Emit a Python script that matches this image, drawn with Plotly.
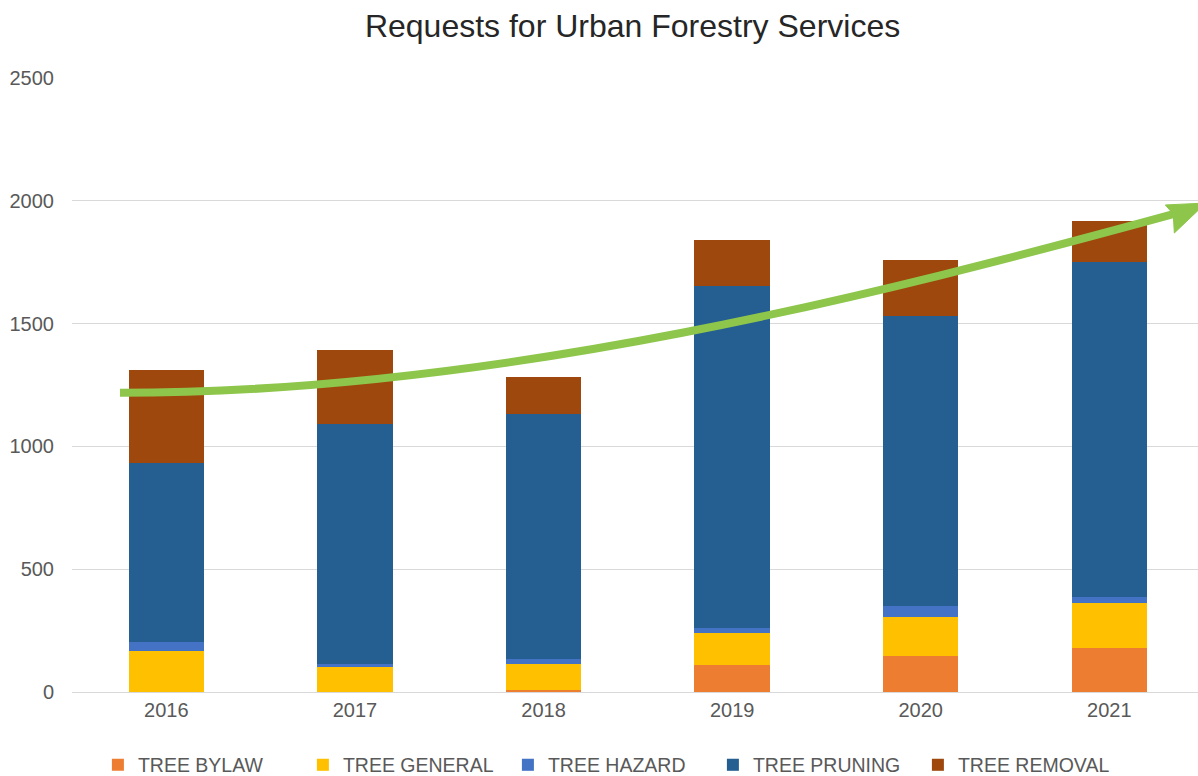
import plotly.graph_objects as go

# Requests per year, by service type
years = ["2016", "2017", "2018", "2019", "2020", "2021"]
tree_bylaw = [0, 0, 9, 111, 148, 178]
tree_general = [167, 100, 105, 129, 157, 184]
tree_hazard = [35, 14, 20, 20, 46, 23]
tree_pruning = [729, 978, 999, 1392, 1180, 1367]
tree_removal = [380, 299, 150, 187, 229, 165]

series = [
    ("TREE BYLAW", tree_bylaw, "#ED7D31"),
    ("TREE GENERAL", tree_general, "#FFC000"),
    ("TREE HAZARD", tree_hazard, "#4472C4"),
    ("TREE PRUNING", tree_pruning, "#255E91"),
    ("TREE REMOVAL", tree_removal, "#9E480E"),
]

FONT = "Liberation Sans, Arial, sans-serif"
TREND_GREEN = "#8DC64B"

fig = go.Figure()
for name, values, color in series:
    fig.add_trace(go.Bar(
        x=years, y=values, name=name,
        marker=dict(color=color, line=dict(width=0)),
    ))

# Upward trend arrow: curved shaft (x in paper units, y in request counts)
shaft = "M 0.0426 1218 C 0.380 1218, 0.722 1625, 0.978 1946"
head = ("M 1.007 1991 L 0.971 1983 L 0.978 1946 "
        "L 0.979 1869 Z")

fig.add_shape(type="path", path=shaft, xref="paper", yref="y",
              line=dict(color=TREND_GREEN, width=8), layer="above")
fig.add_shape(type="path", path=head, xref="paper", yref="y",
              line=dict(color=TREND_GREEN, width=1),
              fillcolor=TREND_GREEN, layer="above")

fig.update_layout(
    width=1198, height=776,
    barmode="stack", bargap=0.6,
    paper_bgcolor="white", plot_bgcolor="white",
    margin=dict(l=72, r=0, t=78, b=84, autoexpand=False),
    font=dict(family=FONT, color="#595959", size=20),
    title=dict(text="Requests for Urban Forestry Services",
               x=0.528, xanchor="center", y=0.967, yanchor="middle",
               font=dict(family=FONT, size=32, color="#262626")),
    xaxis=dict(showgrid=False, showline=True, linecolor="#D9D9D9",
               linewidth=1, ticks="", range=[-0.5, 5.47],
               tickfont=dict(size=20, color="#595959")),
    yaxis=dict(range=[0, 2500], dtick=500, showgrid=True,
               gridcolor="#D9D9D9", gridwidth=1, zeroline=False,
               showline=False, ticks="", ticklabelstandoff=17,
               tickfont=dict(size=20, color="#595959")),
    legend=dict(orientation="h", x=0.023, xanchor="left",
                yref="container", y=0.014, yanchor="middle",
                traceorder="normal", entrywidth=160,
                entrywidthmode="pixels",
                font=dict(size=19.5, color="#595959")),
    showlegend=True,
)

fig.write_html("out.html")
